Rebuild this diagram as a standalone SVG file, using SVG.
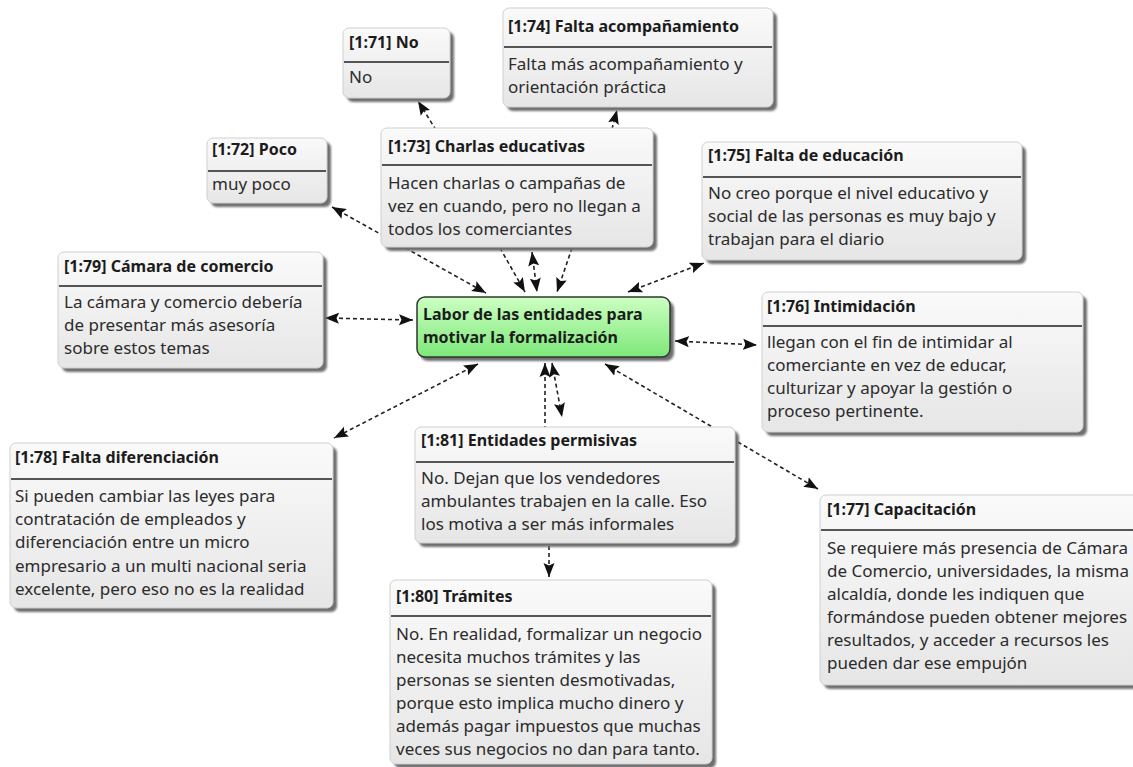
<svg xmlns="http://www.w3.org/2000/svg" width="1133" height="767" viewBox="0 0 1133 767">
<defs>
<linearGradient id="gBox" x1="0" y1="0" x2="0" y2="1"><stop offset="0" stop-color="#fafafa"/><stop offset="1" stop-color="#e6e6e6"/></linearGradient>
<linearGradient id="gCenter" x1="0" y1="0" x2="0" y2="1"><stop offset="0" stop-color="#ccffc2"/><stop offset="1" stop-color="#7de87a"/></linearGradient>
<filter id="blur" x="-10%" y="-10%" width="120%" height="120%"><feGaussianBlur stdDeviation="1.3"/></filter>
<marker id="ah" markerUnits="userSpaceOnUse" markerWidth="15" markerHeight="12" refX="14" refY="6" orient="auto-start-reverse"><path d="M0,0.5 L14,6 L0,11.5 L2.5,6 z" fill="#111"/></marker>
</defs>
<style>
.sh{fill:#6e6e6e;filter:url(#blur)}
.box{fill:url(#gBox);stroke:#cfcfcf;stroke-width:1}
.sep{stroke:#555;stroke-width:2}
.t{font-family:"Noto Sans","Open Sans","DejaVu Sans",sans-serif;font-weight:bold;font-size:16px;fill:#1c1c1c}
.b{font-family:"Noto Sans","Open Sans","DejaVu Sans",sans-serif;font-size:17px;fill:#2b2b2b}
.c{fill:none;stroke:#222;stroke-width:1.6;stroke-dasharray:4,3}
.center{fill:url(#gCenter);stroke:#333;stroke-width:1.5}
</style>
<g id="connectors">
<path class="c" d="M436,130 L418,101" marker-end="url(#ah)"/>
<path class="c" d="M612,129 L617,110" marker-end="url(#ah)"/>
<path class="c" d="M332,207 L486,293" marker-start="url(#ah)" marker-end="url(#ah)"/>
<path class="c" d="M500,248 L525,292" marker-end="url(#ah)"/>
<path class="c" d="M532,252 L537,292" marker-start="url(#ah)" marker-end="url(#ah)"/>
<path class="c" d="M572,248 L557,292" marker-end="url(#ah)"/>
<path class="c" d="M628,292 L704,263" marker-start="url(#ah)" marker-end="url(#ah)"/>
<path class="c" d="M325,318 L413,320" marker-start="url(#ah)" marker-end="url(#ah)"/>
<path class="c" d="M675,341 L757,345" marker-start="url(#ah)" marker-end="url(#ah)"/>
<path class="c" d="M478,364 L334,438" marker-start="url(#ah)" marker-end="url(#ah)"/>
<path class="c" d="M545,363 L545,427" marker-start="url(#ah)"/>
<path class="c" d="M552,363 L562,417" marker-start="url(#ah)" marker-end="url(#ah)"/>
<path class="c" d="M605,364 L818,489" marker-start="url(#ah)" marker-end="url(#ah)"/>
<path class="c" d="M549,546 L549,577" marker-end="url(#ah)"/>
</g>
<g id="center">
<rect class="sh" x="420" y="301" width="254" height="60" rx="8"/>
<rect class="center" x="417" y="297" width="253" height="60" rx="8"/>
<text class="t" x="423" y="320">Labor de las entidades para</text>
<text class="t" x="423" y="343">motivar la formalización</text>
</g>
<g id="n71">
<rect class="sh" x="347" y="32" width="107" height="70" rx="6"/>
<rect class="box" x="343" y="28" width="107" height="70" rx="6"/>
<line class="sep" x1="344" y1="62" x2="449" y2="62"/>
<text class="t" x="349" y="48">[1:71] No</text>
<text class="b" x="349" y="83">No</text>
</g>
<g id="n74">
<rect class="sh" x="507" y="12" width="270" height="99" rx="6"/>
<rect class="box" x="503" y="8" width="270" height="99" rx="6"/>
<line class="sep" x1="504" y1="47" x2="772" y2="47"/>
<text class="t" x="508" y="32">[1:74] Falta acompañamiento</text>
<text class="b" x="508" y="70">Falta más acompañamiento y</text>
<text class="b" x="508" y="93">orientación práctica</text>
</g>
<g id="n72">
<rect class="sh" x="211" y="142" width="120" height="65" rx="6"/>
<rect class="box" x="207" y="138" width="120" height="65" rx="6"/>
<line class="sep" x1="208" y1="171" x2="326" y2="171"/>
<text class="t" x="212" y="155">[1:72] Poco</text>
<text class="b" x="212" y="190">muy poco</text>
</g>
<g id="n73">
<rect class="sh" x="385" y="132" width="272" height="119" rx="6"/>
<rect class="box" x="381" y="128" width="272" height="119" rx="6"/>
<line class="sep" x1="382" y1="165" x2="652" y2="165"/>
<text class="t" x="388" y="152">[1:73] Charlas educativas</text>
<text class="b" x="388" y="189">Hacen charlas o campañas de</text>
<text class="b" x="388" y="212">vez en cuando, pero no llegan a</text>
<text class="b" x="388" y="235">todos los comerciantes</text>
</g>
<g id="n75">
<rect class="sh" x="706" y="146" width="320" height="118" rx="6"/>
<rect class="box" x="702" y="142" width="320" height="118" rx="6"/>
<line class="sep" x1="703" y1="177" x2="1021" y2="177"/>
<text class="t" x="708" y="161">[1:75] Falta de educación</text>
<text class="b" x="708" y="199">No creo porque el nivel educativo y</text>
<text class="b" x="708" y="222">social de las personas es muy bajo y</text>
<text class="b" x="708" y="245">trabajan para el diario</text>
</g>
<g id="n79">
<rect class="sh" x="62" y="256" width="265" height="116" rx="6"/>
<rect class="box" x="58" y="252" width="265" height="116" rx="6"/>
<line class="sep" x1="59" y1="286" x2="322" y2="286"/>
<text class="t" x="64" y="272">[1:79] Cámara de comercio</text>
<text class="b" x="64" y="308">La cámara y comercio debería</text>
<text class="b" x="64" y="331">de presentar más asesoría</text>
<text class="b" x="64" y="354">sobre estos temas</text>
</g>
<g id="n76">
<rect class="sh" x="766" y="296" width="321" height="140" rx="6"/>
<rect class="box" x="762" y="292" width="321" height="140" rx="6"/>
<line class="sep" x1="763" y1="326" x2="1082" y2="326"/>
<text class="t" x="767" y="312">[1:76] Intimidación</text>
<text class="b" x="767" y="348">llegan con el fin de intimidar al</text>
<text class="b" x="767" y="371">comerciante en vez de educar,</text>
<text class="b" x="767" y="394">culturizar y apoyar la gestión o</text>
<text class="b" x="767" y="417">proceso pertinente.</text>
</g>
<g id="n78">
<rect class="sh" x="14" y="447" width="323" height="165" rx="6"/>
<rect class="box" x="10" y="443" width="323" height="165" rx="6"/>
<line class="sep" x1="11" y1="479" x2="332" y2="479"/>
<text class="t" x="15" y="463">[1:78] Falta diferenciación</text>
<text class="b" x="15" y="502">Si pueden cambiar las leyes para</text>
<text class="b" x="15" y="525">contratación de empleados y</text>
<text class="b" x="15" y="548">diferenciación entre un micro</text>
<text class="b" x="15" y="572">empresario a un multi nacional seria</text>
<text class="b" x="15" y="595">excelente, pero eso no es la realidad</text>
</g>
<g id="n81">
<rect class="sh" x="419" y="431" width="320" height="116" rx="6"/>
<rect class="box" x="415" y="427" width="320" height="116" rx="6"/>
<line class="sep" x1="416" y1="462" x2="734" y2="462"/>
<text class="t" x="421" y="446">[1:81] Entidades permisivas</text>
<text class="b" x="421" y="484">No. Dejan que los vendedores</text>
<text class="b" x="421" y="507">ambulantes trabajen en la calle. Eso</text>
<text class="b" x="421" y="530">los motiva a ser más informales</text>
</g>
<g id="n80">
<rect class="sh" x="394" y="584" width="322" height="184" rx="6"/>
<rect class="box" x="390" y="580" width="322" height="184" rx="6"/>
<line class="sep" x1="391" y1="616" x2="711" y2="616"/>
<text class="t" x="396" y="602">[1:80] Trámites</text>
<text class="b" x="396" y="640">No. En realidad, formalizar un negocio</text>
<text class="b" x="396" y="663">necesita muchos trámites y las</text>
<text class="b" x="396" y="686">personas se sienten desmotivadas,</text>
<text class="b" x="396" y="709">porque esto implica mucho dinero y</text>
<text class="b" x="396" y="732">además pagar impuestos que muchas</text>
<text class="b" x="396" y="755">veces sus negocios no dan para tanto.</text>
</g>
<g id="n77">
<rect class="sh" x="824" y="499" width="320" height="190" rx="6"/>
<rect class="box" x="820" y="495" width="320" height="190" rx="6"/>
<line class="sep" x1="821" y1="530" x2="1139" y2="530"/>
<text class="t" x="827" y="515">[1:77] Capacitación</text>
<text class="b" x="827" y="554">Se requiere más presencia de Cámara</text>
<text class="b" x="827" y="577">de Comercio, universidades, la misma</text>
<text class="b" x="827" y="600">alcaldía, donde les indiquen que</text>
<text class="b" x="827" y="623">formándose pueden obtener mejores</text>
<text class="b" x="827" y="646">resultados, y acceder a recursos les</text>
<text class="b" x="827" y="669">pueden dar ese empujón</text>
</g>
</svg>
